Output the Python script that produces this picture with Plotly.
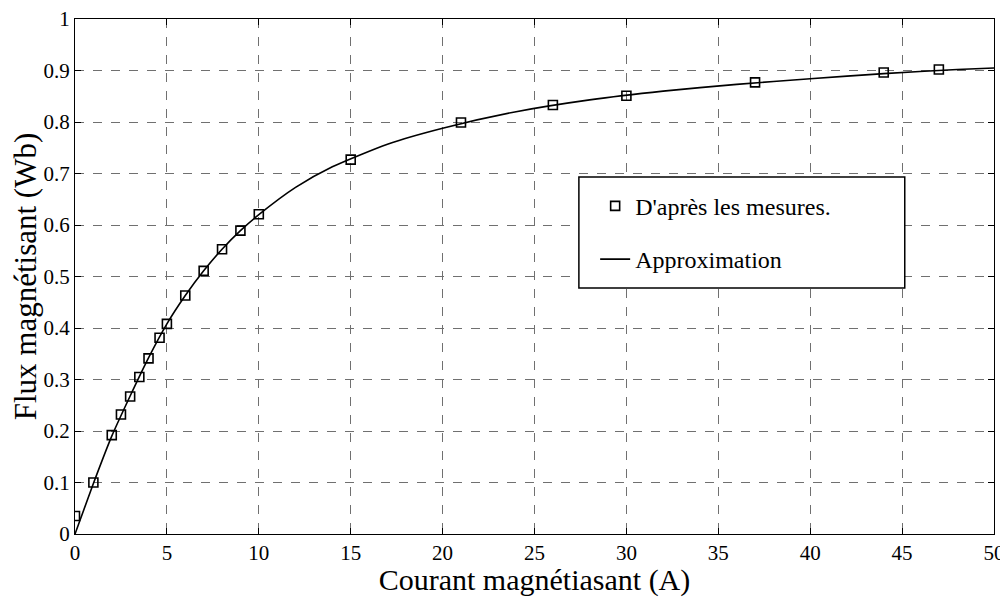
import plotly.graph_objects as go

# Measured points
meas_x = [0, 1, 2, 2.5, 3, 3.5, 4, 4.6, 5, 6, 7, 8, 9, 10, 15, 21, 26, 30, 37, 44, 47]
meas_y = [0.035, 0.100, 0.192, 0.232, 0.267, 0.305, 0.341, 0.381, 0.408, 0.463, 0.511, 0.553,
          0.589, 0.621, 0.727, 0.799, 0.833, 0.851, 0.877, 0.896, 0.902]

# Approximation curve
fit_x = [0, 1, 2, 3, 4, 5, 6, 7, 8, 9, 10, 12, 14, 17, 20, 24, 28, 32, 36, 40, 44, 48, 50]
fit_y = [0, 0.098, 0.19, 0.268, 0.342, 0.408, 0.463, 0.511, 0.553, 0.589, 0.620, 0.673, 0.713,
         0.757, 0.788, 0.820, 0.843, 0.860, 0.873, 0.884, 0.894, 0.902, 0.905]

x_ticks = [0, 5, 10, 15, 20, 25, 30, 35, 40, 45, 50]
y_ticks = [0, 0.1, 0.2, 0.3, 0.4, 0.5, 0.6, 0.7, 0.8, 0.9, 1]

FONT = "Liberation Serif"

fig = go.Figure()
fig.add_trace(go.Scatter(
    x=fit_x, y=fit_y, mode="lines", name="Approximation",
    line=dict(color="black", width=1.6, shape="spline", smoothing=0.6),
    legendgroup="b", legendrank=2,
))
fig.add_trace(go.Scatter(
    x=meas_x, y=meas_y, mode="markers", name="D'après les mesures.",
    marker=dict(symbol="square-open", size=9, color="black", line=dict(width=1.6, color="black")),
    legendgroup="a", legendrank=1,
))

tick_font = dict(family=FONT, size=21, color="black")

axis_common = dict(
    showgrid=True, gridcolor="#707070", griddash="dash", gridwidth=1,
    zeroline=False, showline=True, linecolor="black", linewidth=1.2, mirror="allticks",
    ticks="inside", ticklen=6, tickcolor="black", automargin=False,
    ticklabeloverflow="allow",
)

fig.update_layout(
    xaxis=dict(range=[0, 50], tickvals=x_ticks, ticktext=[str(v) for v in x_ticks],
               tickfont=tick_font,
               title=dict(text="Courant magnétiasant (A)", font=dict(family=FONT, size=30, color="black"),
                          standoff=1),
               **axis_common),
    yaxis=dict(range=[0, 1], tickvals=y_ticks, ticktext=[f"{v:g}" for v in y_ticks],
               tickfont=tick_font,
               title=dict(text="Flux magnétisant (Wb)", font=dict(family=FONT, size=31, color="black"),
                          standoff=2),
               **axis_common),
)

# legend box
fig.add_shape(type="rect", xref="paper", yref="paper",
              x0=0.5483, x1=0.9029, y0=0.4777, y1=0.6932,
              line=dict(color="black", width=1.5), fillcolor="white", layer="above")

fig.update_layout(
    width=1000, height=589,
    margin=dict(l=67, r=14, t=11, b=63),
    paper_bgcolor="white", plot_bgcolor="white",
    font=dict(family=FONT, color="black", size=21),
    showlegend=True,
    legend=dict(x=0.566, y=0.68, xanchor="left", yanchor="top",
                bgcolor="rgba(0,0,0,0)", borderwidth=0,
                font=dict(family=FONT, size=24, color="black"),
                traceorder="grouped", tracegroupgap=19),
)

fig.write_html("out.html")
